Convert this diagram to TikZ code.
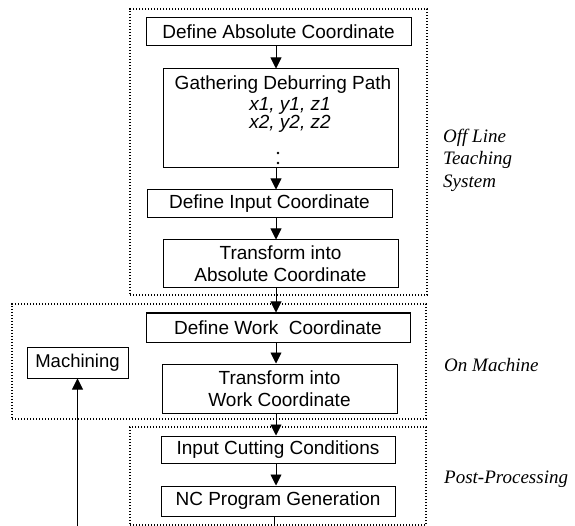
\documentclass[tikz,border=0pt]{standalone}
\usepackage{fontspec}
\setmainfont{Liberation Sans}
\newfontfamily\sidefont{Liberation Serif}
\usepackage{tikz}
\usetikzlibrary{arrows.meta,positioning,calc}

\begin{document}
\begin{tikzpicture}[
    x=1pt, y=-1pt,
    font=\fontsize{19}{22}\selectfont,
    box/.style={draw, line width=1pt, align=center, inner sep=0pt},
    region/.style={draw, line width=1.2pt, dash pattern=on 1.2pt off 1.8pt, inner sep=0pt},
    side/.style={anchor=west, align=left, inner sep=0pt, font=\fontsize{19}{22.5}\selectfont\sidefont\itshape},
    ar/.style={-{Triangle[length=11pt, width=11pt]}, line width=0.9pt},
  ]
    \useasboundingbox (0,0) rectangle (575,526);
    % dotted groups
    \node[region, minimum width=297pt, minimum height=286pt] (offl) at (278.5,152) {};
    \node[region, minimum width=414pt, minimum height=115pt] (onm) at (219,361.5) {};
    \node[region, minimum width=296pt, minimum height=98pt] (post) at (278,476) {};
    \node[side] (offlab) at (443,160) {Off Line\\Teaching\\System};
    \node[side] (onmlab) at (444,365) {On Machine};
    \node[side] (postlab) at (444,479) {Post-Processing};
    % steps
    \node[box, minimum width=265pt, minimum height=28pt] (absc) at (278.5,32) {Define Absolute Coordinate};
    \node[box, minimum width=235pt, minimum height=99pt] (gath) at (280.5,118.5) {};
    \node[inner sep=0pt] (gtitle) at (283,85) {Gathering Deburring Path};
    \node[inner sep=0pt, align=center, font=\fontsize{19}{17}\selectfont\itshape] (gxy) at (290,115) {x1, y1, z1\\x2, y2, z2};
    \fill (278,153) circle (1.3pt) (278,163) circle (1.3pt);
    \node[box, minimum width=245pt, minimum height=28pt] (inpc) at (269.5,204) {Define Input Coordinate};
    \node[box, minimum width=235pt, minimum height=48pt] (tabs) at (280.5,264) {Transform into\\Absolute Coordinate};
    \node[box, minimum width=264pt, minimum height=29pt] (defw) at (278,327.5) {Define Work\ \ Coordinate};
    \node[box, minimum width=235pt, minimum height=49pt] (twrk) at (279.5,388.5) {Transform into\\Work Coordinate};
    \node[box, minimum width=101pt, minimum height=31pt, font=\fontsize{18.5}{21}\selectfont] (mach) at (77.5,362.5) {Machining};
    \node[box, minimum width=234pt, minimum height=27pt] (cutc) at (278,449.5) {Input Cutting Conditions};
    \node[box, minimum width=234pt, minimum height=30pt] (ncpg) at (278,501) {NC Program Generation};
    % arrows
    \coordinate (col) at (276,0);
    \coordinate (ncend) at (274,526);
    \coordinate (machend) at (77.5,526);
    \draw[ar] (absc.south -| col) -- (gath.north -| col);
    \draw[ar] (gath.south -| col) -- (inpc.north -| col);
    \draw[ar] (inpc.south -| col) -- (tabs.north -| col);
    \draw[ar] (tabs.south -| col) -- (defw.north -| col);
    \draw[ar] (defw.south -| col) -- (twrk.north -| col);
    \draw[ar] (twrk.south -| col) -- (cutc.north -| col);
    \draw[ar] (cutc.south -| col) -- (ncpg.north -| col);
    \draw[line width=0.9pt] (ncpg.south -| ncend) -- (ncend);
    \draw[ar] (machend) -- (mach.south);
  \end{tikzpicture}
\end{document}
